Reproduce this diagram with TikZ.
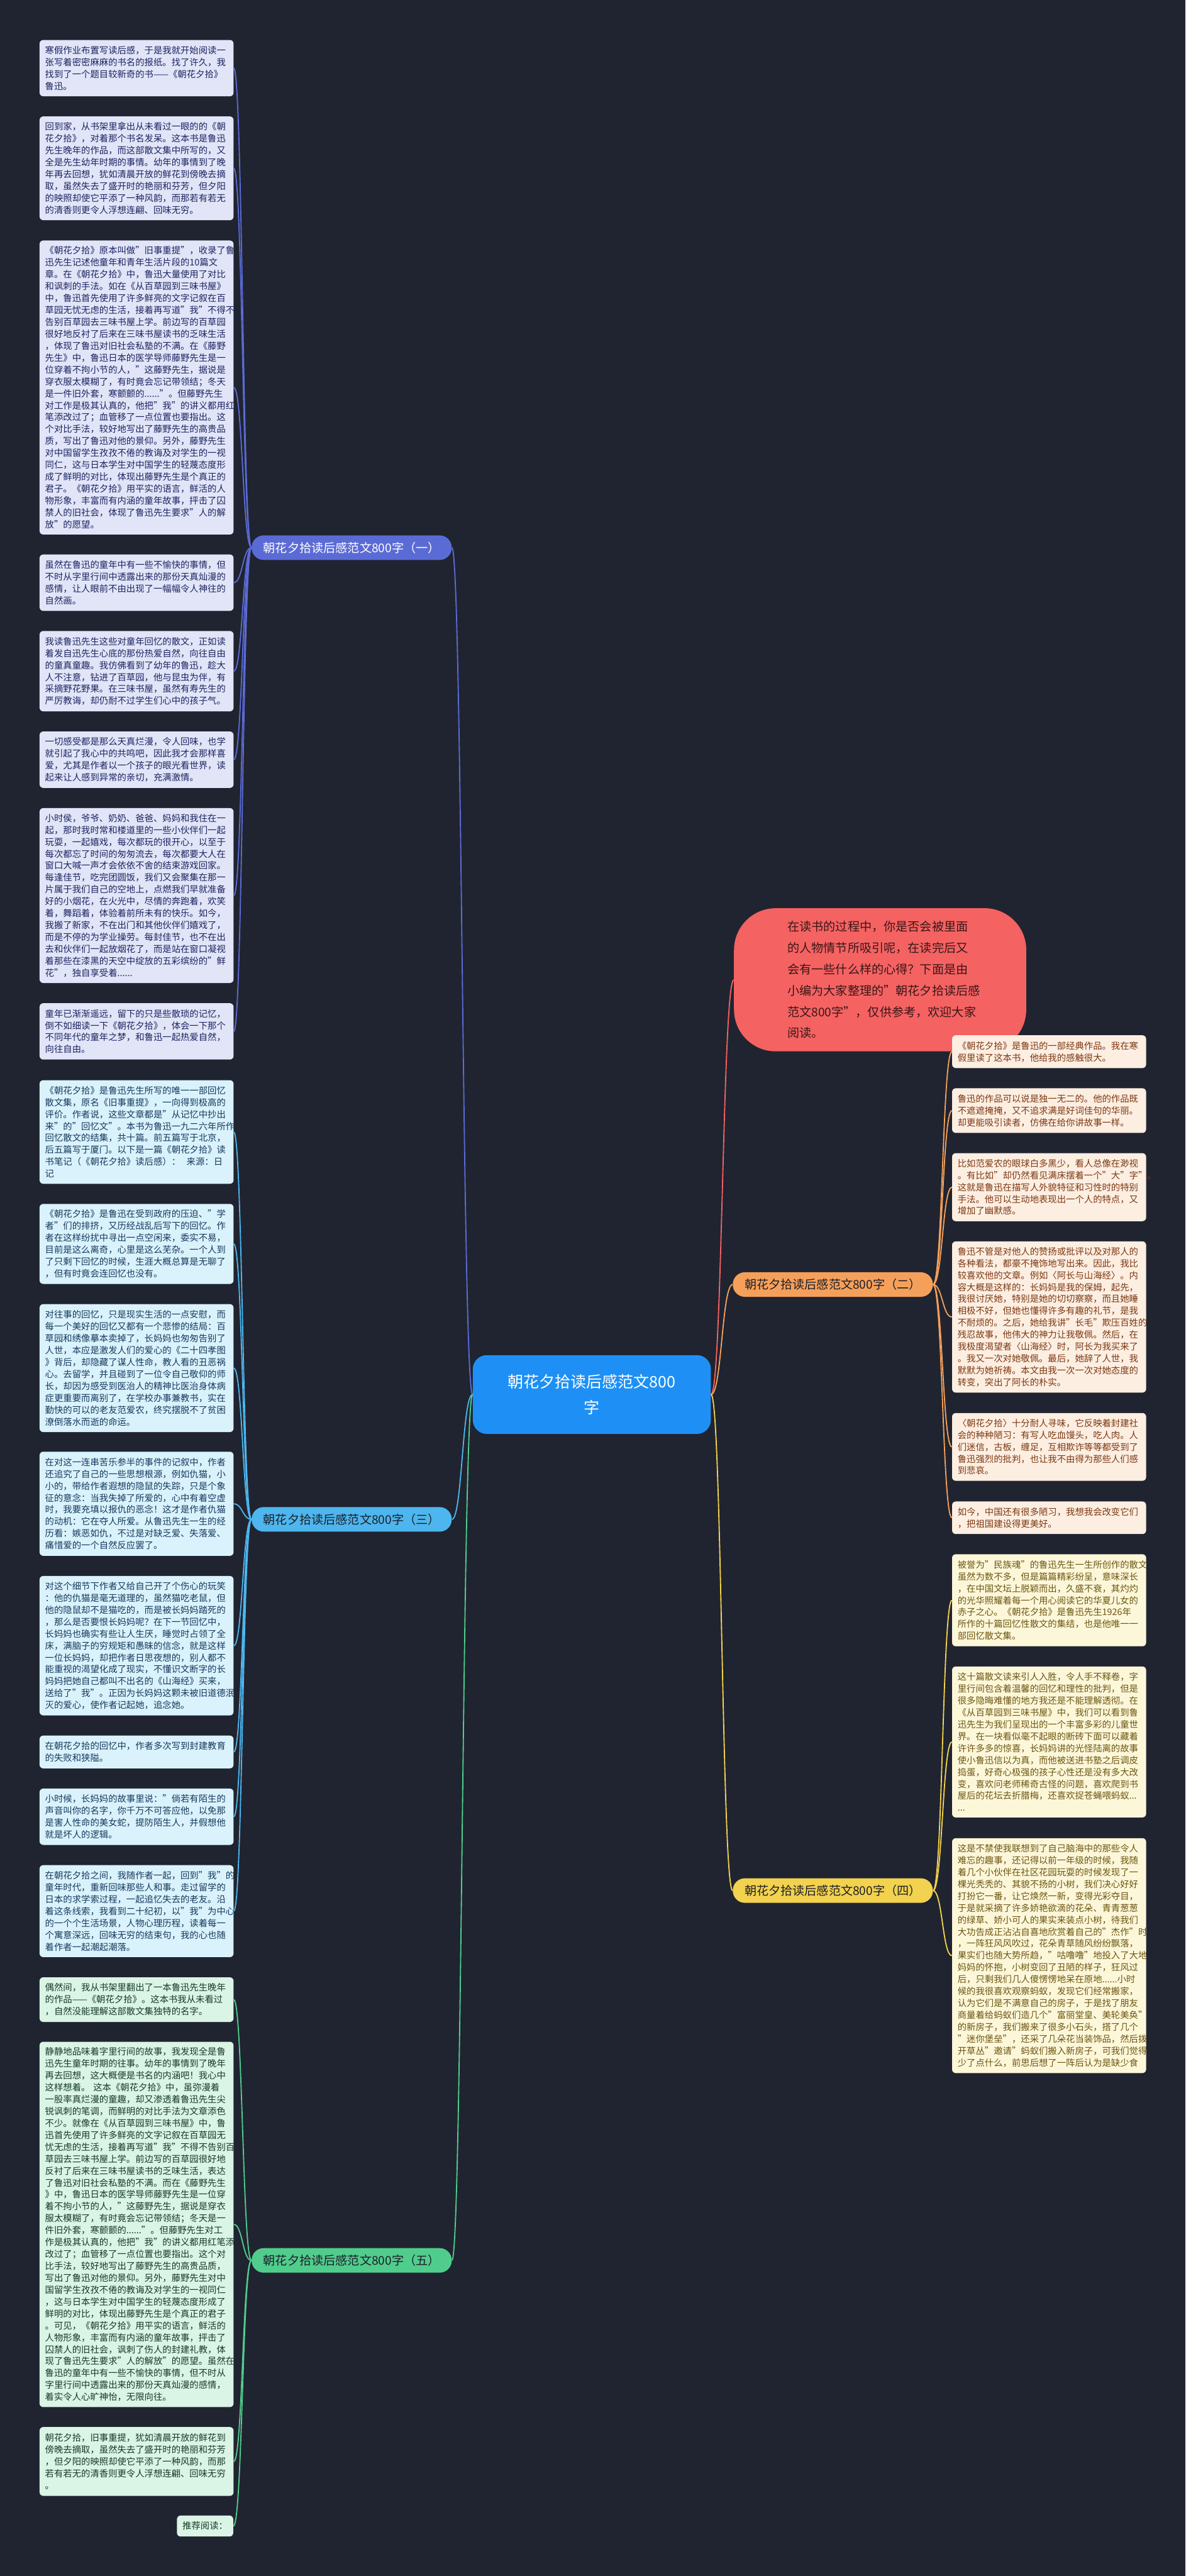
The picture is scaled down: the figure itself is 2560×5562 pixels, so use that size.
\documentclass[tikz,border=0pt]{standalone}
\usepackage{fontspec}
\setmainfont{Noto Sans CJK SC}
\usetikzlibrary{calc}
\definecolor{bg}{RGB}{32,36,48}
\definecolor{cA}{RGB}{91,107,214}
\definecolor{cB}{RGB}{77,182,238}
\definecolor{cC}{RGB}{80,205,140}
\definecolor{cD}{RGB}{245,160,90}
\definecolor{cE}{RGB}{242,210,78}
\definecolor{cR}{RGB}{245,98,98}
\definecolor{cM}{RGB}{30,144,245}
\definecolor{fA}{RGB}{225,229,247}
\definecolor{tA}{RGB}{28,36,97}
\definecolor{fB}{RGB}{218,242,252}
\definecolor{tB}{RGB}{21,58,92}
\definecolor{fC}{RGB}{218,244,230}
\definecolor{tC}{RGB}{23,58,38}
\definecolor{fD}{RGB}{253,238,226}
\definecolor{tD}{RGB}{123,56,17}
\definecolor{fE}{RGB}{253,247,218}
\definecolor{tE}{RGB}{107,85,16}
\definecolor{tR}{RGB}{58,22,22}
\definecolor{tBr}{RGB}{30,30,40}
\begin{document}
\begin{tikzpicture}[x=0.5pt,y=-0.5pt,
  box/.style={anchor=north west, rounded corners=4pt, inner xsep=6pt, inner ysep=0pt,
    text width=197.5pt, align=left, font=\fontsize{9.75pt}{12.85pt}\selectfont},
  gA/.style={box,fill=fA,text=tA}, gB/.style={box,fill=fB,text=tB}, gC/.style={box,fill=fC,text=tC},
  gD/.style={box,fill=fD,text=tD}, gE/.style={box,fill=fE,text=tE},
  branch/.style={anchor=west, rounded corners=13pt, minimum height=26.5pt, minimum width=216pt,
    inner xsep=4pt, inner ysep=0pt, font=\fontsize{13pt}{15pt}\selectfont},
  conn/.style={to path={.. controls ($(\tikztostart)!0.5!(\tikztotarget |- \tikztostart)$) and ($(\tikztotarget)!0.5!(\tikztostart |- \tikztotarget)$) .. (\tikztotarget)}},
  kA/.style={draw=cA, line width=1.25pt, conn}, kB/.style={draw=cB, line width=1.25pt, conn},
  kC/.style={draw=cC, line width=1.25pt, conn}, kD/.style={draw=cD, line width=1.25pt, conn},
  kE/.style={draw=cE, line width=1.25pt, conn}, kR/.style={draw=cR, line width=1.25pt, conn}]
\fill[bg] (0,0) rectangle (2560,5562);
\useasboundingbox (0,0) rectangle (2560,5562);

% centre and intro
\node[fill=cM, text=white, rounded corners=15pt, minimum width=257pt, minimum height=85pt, align=center,
  font=\fontsize{17pt}{28pt}\selectfont] (ctr) at (1278,3011) {朝花夕拾读后感范文800\\字};
\node[fill=cR, text=tR, rounded corners=45pt, minimum width=315.5pt, minimum height=154.5pt,
  text width=200pt, align=left, font=\fontsize{13pt}{23pt}\selectfont] (intro) at (1900.5,2115.5)
  {在读书的过程中，你是否会被里面\\的人物情节所吸引呢，在读完后又\\会有一些什么样的心得？下面是由\\小编为大家整理的"朝花夕拾读后感\\范文800字"，仅供参考，欢迎大家\\阅读。};

% branches
\node[branch, fill=cA, text=white] (br1) at (543,1182.5) {朝花夕拾读后感范文800字（一）};
\node[branch, fill=cB, text=tBr] (br3) at (543,3280.5) {朝花夕拾读后感范文800字（三）};
\node[branch, fill=cC, text=tBr] (br5) at (543,4880.5) {朝花夕拾读后感范文800字（五）};
\node[branch, fill=cD, text=tBr] (br2) at (1582,2773.5) {朝花夕拾读后感范文800字（二）};
\node[branch, fill=cE, text=tBr] (br4) at (1582,4082) {朝花夕拾读后感范文800字（四）};

% branch 1 boxes
\node[gA, minimum height=60.8pt] (a1) at (85,85.9) {寒假作业布置写读后感，于是我就开始阅读一\\张写着密密麻麻的书名的报纸。找了许久，我\\找到了一个题目较新奇的书——《朝花夕拾》\\鲁迅。};
\node[gA, minimum height=112pt] (a2) at (85,251) {回到家，从书架里拿出从未看过一眼的的《朝\\花夕拾》，对着那个书名发呆。这本书是鲁迅\\先生晚年的作品，而这部散文集中所写的，又\\全是先生幼年时期的事情。幼年的事情到了晚\\年再去回想，犹如清晨开放的鲜花到傍晚去摘\\取，虽然失去了盛开时的艳丽和芬芳，但夕阳\\的映照却使它平添了一种风韵，而那若有若无\\的清香则更令人浮想连翩、回味无穷。};
\node[gA, minimum height=317.4pt] (a3) at (85,518.9) {《朝花夕拾》原本叫做"旧事重提"，收录了鲁\\迅先生记述他童年和青年生活片段的10篇文\\章。在《朝花夕拾》中，鲁迅大量使用了对比\\和讽刺的手法。如在《从百草园到三味书屋》\\中，鲁迅首先使用了许多鲜亮的文字记叙在百\\草园无忧无虑的生活，接着再写道"我"不得不\\告别百草园去三味书屋上学。前边写的百草园\\很好地反衬了后来在三味书屋读书的乏味生活\\，体现了鲁迅对旧社会私塾的不满。在《藤野\\先生》中，鲁迅日本的医学导师藤野先生是一\\位穿着不拘小节的人，"这藤野先生，据说是\\穿衣服太模糊了，有时竟会忘记带领结；冬天\\是一件旧外套，寒颤颤的......"。但藤野先生\\对工作是极其认真的，他把"我"的讲义都用红\\笔添改过了；血管移了一点位置也要指出。这\\个对比手法，较好地写出了藤野先生的高贵品\\质，写出了鲁迅对他的景仰。另外，藤野先生\\对中国留学生孜孜不倦的教诲及对学生的一视\\同仁，这与日本学生对中国学生的轻蔑态度形\\成了鲜明的对比，体现出藤野先生是个真正的\\君子。《朝花夕拾》用平实的语言，鲜活的人\\物形象，丰富而有内涵的童年故事，抨击了囚\\禁人的旧社会，体现了鲁迅先生要求"人的解\\放"的愿望。};
\node[gA, minimum height=60.85pt] (a4) at (85,1196.8) {虽然在鲁迅的童年中有一些不愉快的事情，但\\不时从字里行间中透露出来的那份天真灿漫的\\感情，让人眼前不由出现了一幅幅令人神往的\\自然画。};
\node[gA, minimum height=86.75pt] (a5) at (85,1362) {我读鲁迅先生这些对童年回忆的散文，正如读\\着发自迅先生心底的那份热爱自然，向往自由\\的童真童趣。我仿佛看到了幼年的鲁迅，趁大\\人不注意，钻进了百草园，他与昆虫为伴，有\\采摘野花野果。在三味书屋，虽然有寿先生的\\严厉教诲，却仍耐不过学生们心中的孩子气。};
\node[gA, minimum height=60.9pt] (a6) at (85,1579) {一切感受都是那么天真烂漫，令人回味，也学\\就引起了我心中的共鸣吧，因此我才会那样喜\\爱，尤其是作者以一个孩子的眼光看世界，读\\起来让人感到异常的亲切，充满激情。};
\node[gA, minimum height=188.8pt] (a7) at (85,1744.4) {小时侯，爷爷、奶奶、爸爸、妈妈和我住在一\\起，那时我时常和楼道里的一些小伙伴们一起\\玩耍，一起嬉戏，每次都玩的很开心，以至于\\每次都忘了时间的匆匆流去，每次都要大人在\\窗口大喊一声才会依依不舍的结束游戏回家。\\每逢佳节，吃完团圆饭，我们又会聚集在那一\\片属于我们自己的空地上，点燃我们早就准备\\好的小烟花，在火光中，尽情的奔跑着，欢笑\\着，舞蹈着，体验着前所未有的快乐。如今，\\我搬了新家，不在出门和其他伙伴们嬉戏了，\\而是不停的为学业操劳。每封佳节，也不在出\\去和伙伴们一起放烟花了，而是站在窗口凝视\\着那些在漆黑的天空中绽放的五彩缤纷的"鲜\\花"，独自享受着......};
\node[gA, minimum height=60.8pt] (a8) at (85,2165.7) {童年已渐渐遥远，留下的只是些散琐的记忆，\\倒不如细读一下《朝花夕拾》，体会一下那个\\不同年代的童年之梦，和鲁迅一起热爱自然，\\向往自由。};

% branch 3 boxes
\node[gB, minimum height=111.8pt] (c1) at (85,2331.9) {《朝花夕拾》是鲁迅先生所写的唯一一部回忆\\散文集，原名《旧事重提》，一向得到极高的\\评价。作者说，这些文章都是"从记忆中抄出\\来"的"回忆文"。本书为鲁迅一九二六年所作\\回忆散文的结集，共十篇。前五篇写于北京，\\后五篇写于厦门。以下是一篇《朝花夕拾》读\\书笔记（《朝花夕拾》读后感）：\ \ 来源：日\\记};
\node[gB, minimum height=86.4pt] (c2) at (85,2599) {《朝花夕拾》是鲁迅在受到政府的压迫、"学\\者"们的排挤，又历经战乱后写下的回忆。作\\者在这样纷扰中寻出一点空闲来，委实不易，\\目前是这么离奇，心里是这么芜杂。一个人到\\了只剩下回忆的时候，生涯大概总算是无聊了\\，但有时竟会连回忆也没有。};
\node[gB, minimum height=138.1pt] (c3) at (85,2815.4) {对往事的回忆，只是现实生活的一点安慰，而\\每一个美好的回忆又都有一个悲惨的结局：百\\草园和绣像摹本卖掉了，长妈妈也匆匆告别了\\人世，本应是激发人们的爱心的《二十四孝图\\》背后，却隐藏了谋人性命，教人看的丑恶祸\\心。去留学，并且碰到了一位令自己敬仰的师\\长，却因为感受到医治人的精神比医治身体病\\症更重要而离别了，在学校办事兼教书，实在\\勤快的可以的老友范爱农，终究摆脱不了贫困\\潦倒落水而逝的命运。};
\node[gB, minimum height=112.4pt] (c4) at (85,3134) {在对这一连串苦乐参半的事件的记叙中，作者\\还追究了自己的一些思想根源，例如仇猫，小\\小的，带给作者遐想的隐鼠的失踪，只是个象\\征的意念：当我失掉了所爱的，心中有着空虚\\时，我要充填以报仇的恶念！这才是作者仇猫\\的动机：它在夺人所爱。从鲁迅先生一生的经\\历看：嫉恶如仇，不过是对缺乏爱、失落爱、\\痛惜爱的一个自然反应罢了。};
\node[gB, minimum height=150.5pt] (c5) at (85,3402.4) {对这个细节下作者又给自己开了个伤心的玩笑\\：他的仇猫是毫无道理的，虽然猫吃老鼠，但\\他的隐鼠却不是猫吃的，而是被长妈妈踏死的\\，那么是否要恨长妈妈呢？在下一节回忆中，\\长妈妈也确实有些让人生厌，睡觉时占领了全\\床，满脑子的穷规矩和愚昧的信念，就是这样\\一位长妈妈，却把作者日思夜想的，别人都不\\能重视的渴望化成了现实，不懂识文断字的长\\妈妈把她自己都叫不出名的《山海经》买来，\\送给了"我"。正因为长妈妈这颗未被旧道德泯\\灭的爱心，使作者记起她，追念她。};
\node[gB, minimum height=35.4pt] (c6) at (85,3747) {在朝花夕拾的回忆中，作者多次写到封建教育\\的失败和狭隘。};
\node[gB, minimum height=60.8pt] (c7) at (85,3861.4) {小时候，长妈妈的故事里说："倘若有陌生的\\声音叫你的名字，你千万不可答应他，以免那\\是害人性命的美女蛇，提防陌生人，并假想他\\就是坏人的逻辑。};
\node[gB, minimum height=99.3pt] (c8) at (85,4026.7) {在朝花夕拾之间，我随作者一起，回到"我"的\\童年时代，重新回味那些人和事。走过留学的\\日本的求学索过程，一起追忆失去的老友。沿\\着这条线索，我看到二十纪初，以"我"为中心\\的一个个生活场景，人物心理历程，读着每一\\个寓意深远，回味无穷的结束句，我的心也随\\着作者一起潮起潮落。};

% branch 5 boxes
\node[gC, minimum height=48.2pt] (e1) at (85,4268.9) {偶然间，我从书架里翻出了一本鲁迅先生晚年\\的作品——《朝花夕拾》。这本书我从未看过\\，自然没能理解这部散文集独特的名字。};
\node[gC, minimum height=394.4pt] (e2) at (85,4408) {静静地品味着字里行间的故事，我发现全是鲁\\迅先生童年时期的往事。幼年的事情到了晚年\\再去回想，这大概便是书名的内涵吧！我心中\\这样想着。 这本《朝花夕拾》中，虽弥漫着\\一股率真烂漫的童趣，却又渗透着鲁迅先生尖\\锐讽刺的笔调，而鲜明的对比手法为文章添色\\不少。就像在《从百草园到三味书屋》中，鲁\\迅首先使用了许多鲜亮的文字记叙在百草园无\\忧无虑的生活，接着再写道"我"不得不告别百\\草园去三味书屋上学。前边写的百草园很好地\\反衬了后来在三味书屋读书的乏味生活，表达\\了鲁迅对旧社会私塾的不满。而在《藤野先生\\》中，鲁迅日本的医学导师藤野先生是一位穿\\着不拘小节的人，"这藤野先生，据说是穿衣\\服太模糊了，有时竟会忘记带领结；冬天是一\\件旧外套，寒颤颤的......"。但藤野先生对工\\作是极其认真的，他把"我"的讲义都用红笔添\\改过了；血管移了一点位置也要指出。这个对\\比手法，较好地写出了藤野先生的高贵品质，\\写出了鲁迅对他的景仰。另外，藤野先生对中\\国留学生孜孜不倦的教诲及对学生的一视同仁\\，这与日本学生对中国学生的轻蔑态度形成了\\鲜明的对比，体现出藤野先生是个真正的君子\\。可见，《朝花夕拾》用平实的语言，鲜活的\\人物形象，丰富而有内涵的童年故事，抨击了\\囚禁人的旧社会，讽刺了伤人的封建礼教，体\\现了鲁迅先生要求"人的解放"的愿望。虽然在\\鲁迅的童年中有一些不愉快的事情，但不时从\\字里行间中透露出来的那份天真灿漫的感情，\\着实令人心旷神怡，无限向往。};
\node[gC, minimum height=74.3pt] (e3) at (85,5239.9) {朝花夕拾，旧事重提，犹如清晨开放的鲜花到\\傍晚去摘取，虽然失去了盛开时的艳丽和芬芳\\，但夕阳的映照却使它平添了一种风韵，而那\\若有若无的清香则更令人浮想连翩、回味无穷\\。};
\node[gC, anchor=north east, text width=, minimum height=22.65pt, minimum width=60pt] (e4) at (504,5431) {推荐阅读：};

% branch 2 boxes
\node[gD, minimum height=35.4pt] (d1) at (2055.5,2234.9) {《朝花夕拾》是鲁迅的一部经典作品。我在寒\\假里读了这本书，他给我的感触很大。};
\node[gD, minimum height=48.25pt] (d2) at (2055.5,2349.3) {鲁迅的作品可以说是独一无二的。他的作品既\\不遮遮掩掩，又不追求满是好词佳句的华丽。\\却更能吸引读者，仿佛在给你讲故事一样。};
\node[gD, minimum height=73.45pt] (d3) at (2055.5,2489.4) {比如范爱农的眼球白多黑少，看人总像在渺视\\。有比如"却仍然看见满床摆着一个"大"字"。\\这就是鲁迅在描写人外貌特征和习性时的特别\\手法。他可以生动地表现出一个人的特点，又\\增加了幽默感。};
\node[gD, minimum height=163.25pt] (d4) at (2055.5,2679.9) {鲁迅不管是对他人的赞扬或批评以及对那人的\\各种看法，都豪不掩饰地写出来。因此，我比\\较喜欢他的文章。例如〈阿长与山海经〉。内\\容大概是这样的：长妈妈是我的保姆，起先，\\我很讨厌她，特别是她的切切察察，而且她睡\\相极不好，但她也懂得许多有趣的礼节，是我\\不耐烦的。之后，她给我讲"长毛"欺压百姓的\\残忍故事，他伟大的神力让我敬佩。然后，在\\我极度渴望者〈山海经〉时，阿长为我买来了\\。我又一次对她敬佩。最后，她辞了人世，我\\默默为她祈祷。本文由我一次一次对她态度的\\转变，突出了阿长的朴实。};
\node[gD, minimum height=73.2pt] (d5) at (2055.5,3050.5) {〈朝花夕拾〉十分耐人寻味，它反映着封建社\\会的种种陋习：有写人吃血馒头，吃人肉。人\\们迷信，古板，缠足，互相欺诈等等都受到了\\鲁迅强烈的批判，也让我不由得为那些人们感\\到悲哀。};
\node[gD, minimum height=35.15pt] (d6) at (2055.5,3241.5) {如今，中国还有很多陋习，我想我会改变它们\\，把祖国建设得更美好。};

% branch 4 boxes
\node[gE, minimum height=99.4pt] (y1) at (2055.5,3355.4) {被誉为"民族魂"的鲁迅先生一生所创作的散文\\虽然为数不多，但是篇篇精彩纷呈，意味深长\\，在中国文坛上脱颖而出，久盛不衰，其灼灼\\的光华照耀着每一个用心阅读它的华夏儿女的\\赤子之心。《朝花夕拾》是鲁迅先生1926年\\所作的十篇回忆性散文的集结，也是他唯一一\\部回忆散文集。};
\node[gE, minimum height=162.95pt] (y2) at (2055.5,3597.8) {这十篇散文读来引人入胜，令人手不释卷，字\\里行间包含着温馨的回忆和理性的批判，但是\\很多隐晦难懂的地方我还是不能理解透彻。在\\《从百草园到三味书屋》中，我们可以看到鲁\\迅先生为我们呈现出的一个丰富多彩的儿童世\\界。在一块看似毫不起眼的断砖下面可以藏着\\许许多多的惊喜，长妈妈讲的光怪陆离的故事\\使小鲁迅信以为真，而他被送进书塾之后调皮\\捣蛋，好奇心极强的孩子心性还是没有多大改\\变，喜欢问老师稀奇古怪的问题，喜欢爬到书\\屋后的花坛去折腊梅，还喜欢捉苍蝇喂蚂蚁...\\...};
\node[gE, minimum height=253.6pt] (y3) at (2055.5,3968.5) {这是不禁使我联想到了自己脑海中的那些令人\\难忘的趣事，还记得以前一年级的时候，我随\\着几个小伙伴在社区花园玩耍的时候发现了一\\棵光秃秃的、其貌不扬的小树，我们决心好好\\打扮它一番，让它焕然一新，变得光彩夺目，\\于是就采摘了许多娇艳欲滴的花朵、青青葱葱\\的绿草、娇小可人的果实来装点小树，待我们\\大功告成正沾沾自喜地欣赏着自己的"杰作"时\\，一阵狂风风吹过，花朵青草随风纷纷飘落，\\果实们也随大势所趋，"咕噜噜"地投入了大地\\妈妈的怀抱，小树变回了丑陋的样子，狂风过\\后，只剩我们几人傻愣愣地呆在原地......小时\\候的我很喜欢观察蚂蚁，发现它们经常搬家，\\认为它们是不满意自己的房子，于是找了朋友\\商量着给蚂蚁们造几个"富丽堂皇、美轮美奂"\\的新房子，我们搬来了很多小石头，搭了几个\\"迷你堡垒"，还采了几朵花当装饰品，然后拨\\开草丛"邀请"蚂蚁们搬入新房子，可我们觉得\\少了点什么，前思后想了一阵后认为是缺少食};

% connectors
\draw[kA] (ctr.west) to (br1.east);
\draw[kB] (ctr.west) to (br3.east);
\draw[kC] (ctr.west) to (br5.east);
\draw[kR] (ctr.east) to (intro.west);
\draw[kD] (ctr.east) to (br2.west);
\draw[kE] (ctr.east) to (br4.west);
\foreach \n in {a1,a2,a3,a4,a5,a6,a7,a8} \draw[kA] (br1.west) to (\n.east);
\foreach \n in {c1,c2,c3,c4,c5,c6,c7,c8} \draw[kB] (br3.west) to (\n.east);
\foreach \n in {e1,e2,e3,e4} \draw[kC] (br5.west) to (\n.east);
\foreach \n in {d1,d2,d3,d4,d5,d6} \draw[kD] (br2.east) to (\n.west);
\foreach \n in {y1,y2,y3} \draw[kE] (br4.east) to (\n.west);
\end{tikzpicture}
\end{document}
